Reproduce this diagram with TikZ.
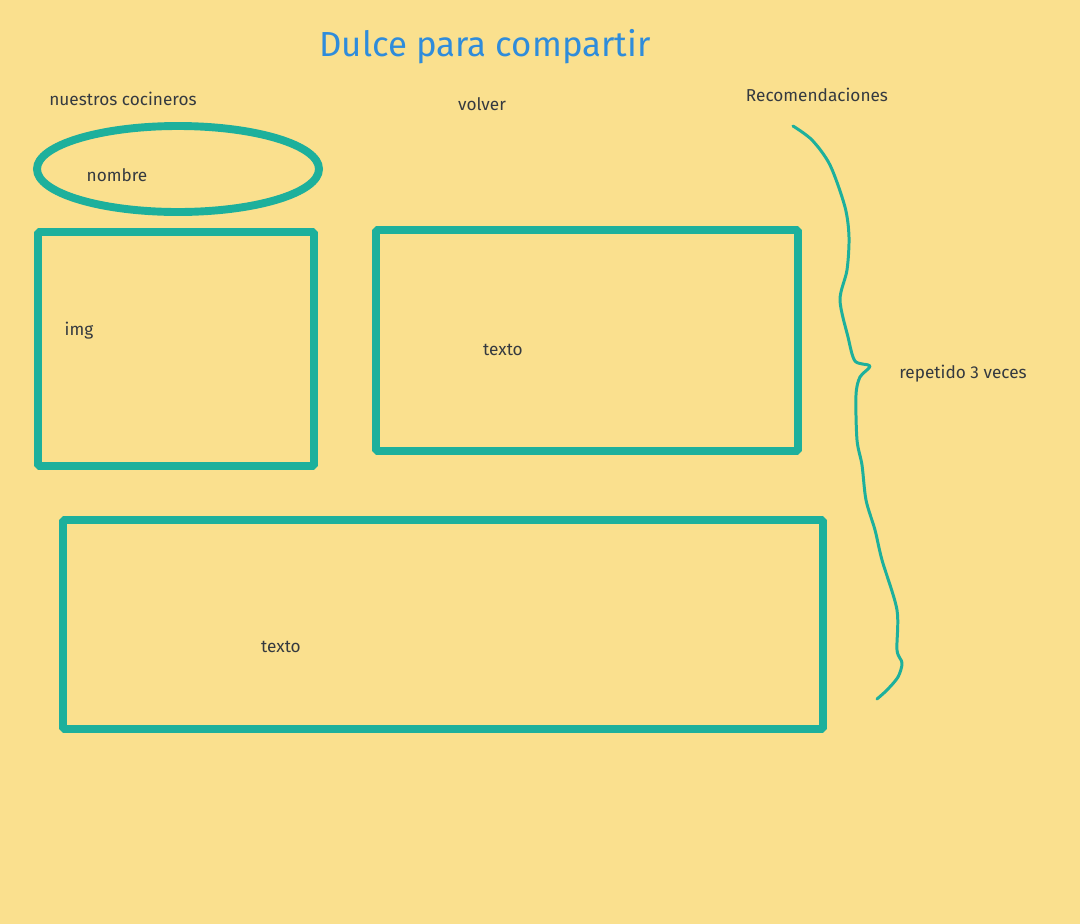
\documentclass[tikz,border=0pt]{standalone}
\usepackage{fontspec}
\setmainfont{Fira Sans}
\usetikzlibrary{shapes.geometric}
\definecolor{bgyellow}{HTML}{FAE08E}
\definecolor{tealline}{HTML}{1DB09C}
\definecolor{titleblue}{HTML}{2F8CDB}
\definecolor{inkgray}{HTML}{353A40}
\begin{document}
\begin{tikzpicture}[
    x=0.02cm, y=-0.02cm,
    lbl/.style={text=inkgray, font=\fontsize{9.8}{11}\selectfont, inner sep=0pt},
    frame/.style={draw=tealline, line width=4.5pt, rounded corners=1pt},
    brace/.style={draw=tealline, line width=1.7pt, line cap=round, line join=round},
]
% background fixes the page size
\path[fill=bgyellow] (0,0) rectangle (1080,924);

% header
\node[text=titleblue, font=\fontsize{19.8}{23}\selectfont, inner sep=0pt] (title) at (485,47) {Dulce para compartir};
\node[lbl] (cooks) at (123,99) {nuestros cocineros};
\node[lbl] (back) at (482,104) {volver};
\node[lbl] (recs) at (817,95) {Recomendaciones};

% cook name and picture
\draw[tealline, line width=4.5pt] (178,169) ellipse [x radius=141, y radius=43];
\node[lbl] (name) at (117,175) {nombre};
\draw[frame] (38,232) rectangle (314,466);
\node[lbl] (img) at (79,331) {img};

% text blocks
\draw[frame] (376,230) rectangle (798,451);
\node[lbl] (text1) at (503,350) {texto};
\draw[frame] (63,520) rectangle (823,729);
\node[lbl] (text2) at (281,647) {texto};

% hand drawn brace
\draw[brace] plot[smooth, tension=0.5] coordinates {
    (793,126) (812,140) (830,165) (845,207) (849,237) (847,270)
    (840,300) (848,337) (855,361) (870,366) (860,377) (856,395)
    (857,440) (862,465) (866,500) (875,530) (882,560) (897,610)
    (897,650) (902,663) (898,677) (887,690) (877,699)};
\node[lbl] (repeat) at (963,374) {repetido 3 veces};
\end{tikzpicture}
\end{document}
